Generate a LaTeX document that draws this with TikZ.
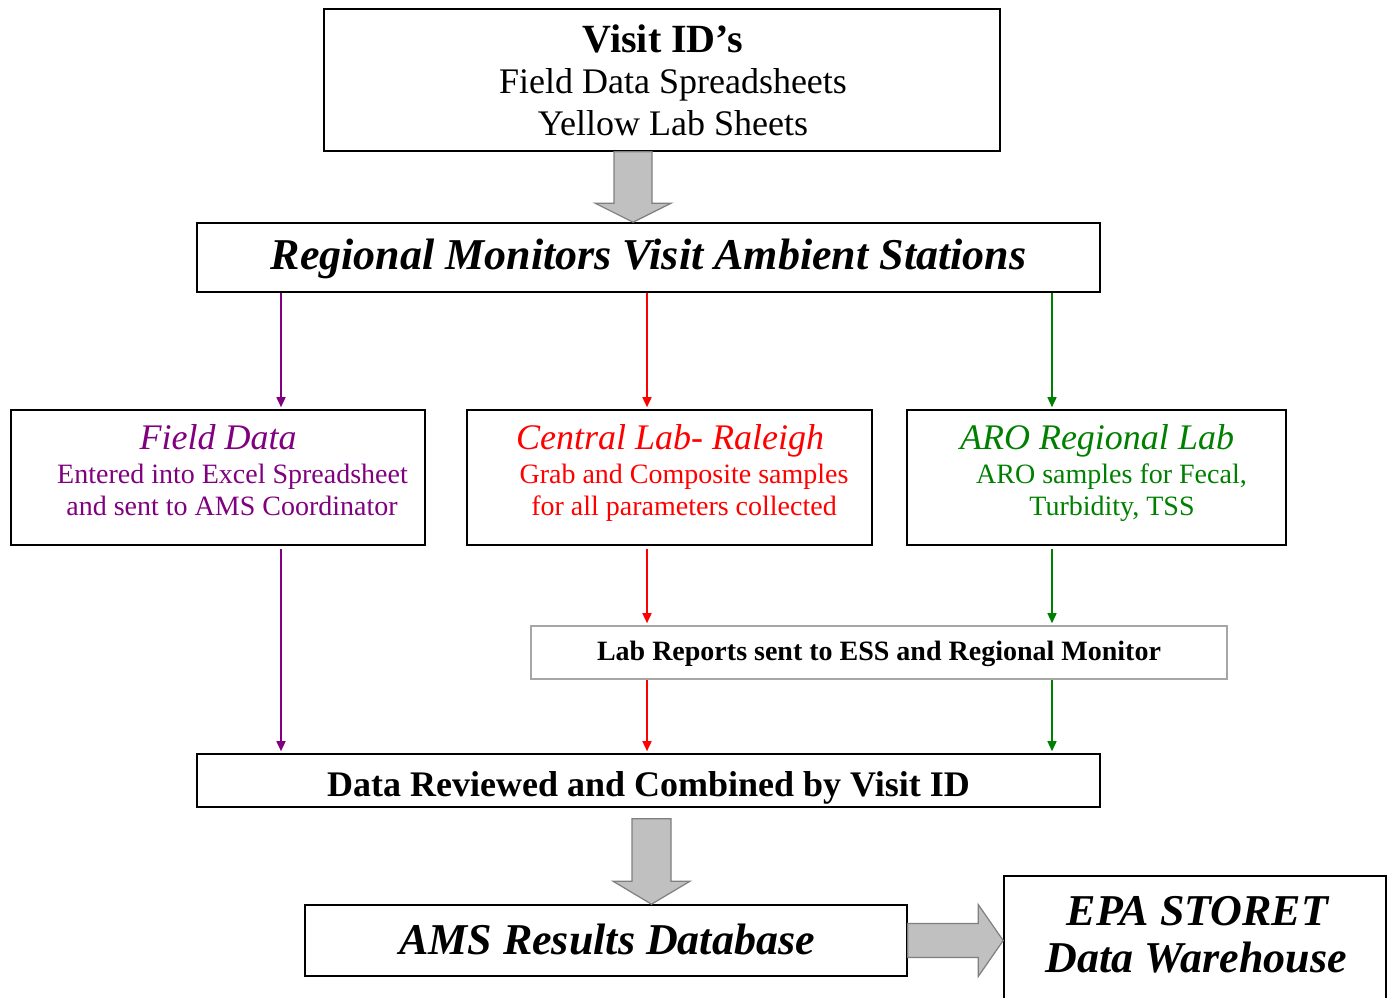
\documentclass[tikz,border=0pt]{standalone}
\usepackage{fontspec}
\setmainfont{Liberation Serif}
\usetikzlibrary{arrows.meta,calc}

\definecolor{fieldcol}{HTML}{800080}
\definecolor{labcol}{HTML}{FF0000}
\definecolor{arocol}{HTML}{008000}
\definecolor{blockfill}{HTML}{C0C0C0}
\definecolor{blockedge}{HTML}{7F7F7F}
\definecolor{softedge}{HTML}{A6A6A6}

\tikzset{
  box/.style={draw=black, line width=0.8pt, rectangle, inner sep=0pt, fill=white},
  softbox/.style={box, draw=softedge},
  txt/.style={anchor=base, inner sep=0pt},
  flow/.style={line width=0.75pt, -{Triangle[length=5pt,width=4.5pt]}, shorten >=1pt},
  gap/.style={shorten <=1.5pt},
  blockarrow/.style={fill=blockfill, draw=blockedge, line width=0.6pt, line join=miter},
  big/.style={font=\fontsize{22}{26}\selectfont\bfseries\itshape},
  mid/.style={font=\fontsize{18}{21}\selectfont},
  small/.style={font=\fontsize{14}{17}\selectfont}
}

\begin{document}
\begin{tikzpicture}[x=0.5pt, y=-0.5pt]
\useasboundingbox (0,0) rectangle (1392,997);

% column positions of the coloured flows
\coordinate (colP) at (281,0);
\coordinate (colR) at (647,0);
\coordinate (colG) at (1052,0);
\coordinate (colA) at (633,0);
\coordinate (colB) at (651.5,0);

% boxes
\node[box, minimum width=338pt, minimum height=71pt] (top) at (662,80) {};
\node[box, minimum width=451.5pt, minimum height=34.5pt] (visit) at (648.5,257.5) {};
\node[box, minimum width=207pt, minimum height=67.5pt] (field) at (218,477.5) {};
\node[box, minimum width=202.5pt, minimum height=67.5pt] (central) at (669.5,477.5) {};
\node[box, minimum width=189.5pt, minimum height=67.5pt] (aro) at (1096.5,477.5) {};
\node[softbox, minimum width=348pt, minimum height=26.5pt] (reports) at (879,652.5) {};
\node[box, minimum width=451.5pt, minimum height=26.5pt] (review) at (648.5,780.5) {};
\node[box, minimum width=301pt, minimum height=35.5pt] (ams) at (606,940.5) {};
\node[box, minimum width=191pt, minimum height=74pt] (epa) at (1195,950) {};

% block arrows
\draw[blockarrow] let \p1=(top.south -| colA), \p2=(visit.north -| colA) in
  (\x1-9.5pt,\y1) -- (\x1+9.5pt,\y1) -- (\x1+9.5pt,\y2+9.5pt) -- (\x1+19pt,\y2+9.5pt)
  -- (\x2,\y2) -- (\x1-19pt,\y2+9.5pt) -- (\x1-9.5pt,\y2+9.5pt) -- cycle;
\draw[blockarrow] let \p1=(review.south -| colB), \p2=(ams.north -| colB) in
  (\x1-9.75pt,\y1-5.5pt) -- (\x1+9.75pt,\y1-5.5pt) -- (\x1+9.75pt,\y2+11.5pt) -- (\x1+19.25pt,\y2+11.5pt)
  -- (\x2,\y2) -- (\x1-19.25pt,\y2+11.5pt) -- (\x1-9.75pt,\y2+11.5pt) -- cycle;
\coordinate (rowC) at (0,940.5);
\draw[blockarrow] let \p1=(ams.east |- rowC), \p2=(epa.west |- rowC) in
  (\x1,\y1+8.5pt) -- (\x2-12.5pt,\y1+8.5pt) -- (\x2-12.5pt,\y1+18pt) -- (\x2,\y2)
  -- (\x2-12.5pt,\y1-18pt) -- (\x2-12.5pt,\y1-8.5pt) -- (\x1,\y1-8.5pt) -- cycle;

% coloured flows
\draw[flow, fieldcol] (visit.south -| colP) -- (field.north -| colP);
\draw[flow, gap, fieldcol] (field.south -| colP) -- (review.north -| colP);
\draw[flow, labcol] (visit.south -| colR) -- (central.north -| colR);
\draw[flow, gap, labcol] (central.south -| colR) -- (reports.north -| colR);
\draw[flow, labcol] (reports.south -| colR) -- (review.north -| colR);
\draw[flow, arocol] (visit.south -| colG) -- (aro.north -| colG);
\draw[flow, gap, arocol] (aro.south -| colG) -- (reports.north -| colG);
\draw[flow, arocol] (reports.south -| colG) -- (review.north -| colG);

% texts
\node[txt, font=\fontsize{20}{24}\selectfont\bfseries] (t1) at (663,52) {Visit ID’s};
\node[txt, mid] (t2) at (673,93) {Field Data Spreadsheets};
\node[txt, mid] (t3) at (673,135) {Yellow Lab Sheets};

\node[txt, big] (t4) at (648.5,269) {Regional Monitors Visit Ambient Stations};

\node[txt, font=\fontsize{18}{21}\selectfont\itshape, text=fieldcol] (t5) at (218,449) {Field Data};
\node[txt, small, text=fieldcol] (t6) at (232.5,483) {Entered into Excel Spreadsheet};
\node[txt, small, text=fieldcol] (t7) at (232,515) {and sent to AMS Coordinator};

\node[txt, font=\fontsize{18}{21}\selectfont\itshape, text=labcol] (t8) at (670,449) {Central Lab- Raleigh};
\node[txt, small, text=labcol] (t9) at (684,483) {Grab and Composite samples};
\node[txt, small, text=labcol] (t10) at (684,515) {for all parameters collected};

\node[txt, font=\fontsize{18}{21}\selectfont\itshape, text=arocol] (t11) at (1097,449) {ARO Regional Lab};
\node[txt, small, text=arocol] (t12) at (1111.5,483) {ARO samples for Fecal,};
\node[txt, small, text=arocol] (t13) at (1112,515) {Turbidity, TSS};

\node[txt, font=\fontsize{14}{17}\selectfont\bfseries] (t14) at (879,660) {Lab Reports sent to ESS and Regional Monitor};
\node[txt, font=\fontsize{18}{21}\selectfont\bfseries] (t15) at (648.5,796) {Data Reviewed and Combined by Visit ID};

\node[txt, big] (t16) at (607,954) {AMS Results Database};
\node[txt, big] (t17) at (1197.5,925) {EPA STORET};
\node[txt, big] (t18) at (1196.5,972) {Data Warehouse};
\end{tikzpicture}
\end{document}
